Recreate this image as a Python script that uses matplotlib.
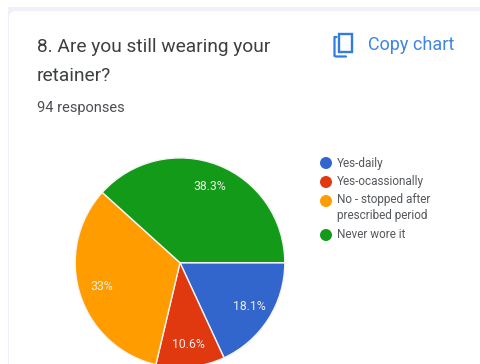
import matplotlib
matplotlib.use('Agg')
import matplotlib.pyplot as plt
from matplotlib.patches import Circle, FancyBboxPatch, Rectangle

# survey answers
categories = ['Yes-daily', 'Yes-ocassionally', 'No - stopped after\nprescribed period', 'Never wore it']
values = [18.1, 10.6, 33, 38.3]
colors = ['#3366cc', '#e0390f', '#ff9d00', '#149a19']
legend_y = [163, 182, 201, 235]
title_lines = ['8. Are you still wearing your', 'retainer?']
subtitle = '94 responses'
button_text = 'Copy chart'

W, H = 481, 364
plt.rcParams['font.family'] = ['Roboto', 'DejaVu Sans']


def Y(y):
    # pixel rows run downwards, the axes run upwards
    return H - y


fig = plt.figure(figsize=(W / 100, H / 100), dpi=100, facecolor='white')
ax = fig.add_axes([0, 0, 1, 1])
ax.set_xlim(0, W)
ax.set_ylim(0, H)
ax.axis('off')

# page strip behind the card, then the white card with its faint edge
ax.add_patch(Rectangle((8, -5), W, H + 5 - 7, facecolor='#f1eff9', edgecolor='none', zorder=0))
card = FancyBboxPatch((9, -40), W + 40, H + 40 - 11, boxstyle='round,pad=0,rounding_size=7',
                      facecolor='white', edgecolor='none', zorder=0.5)
ax.add_patch(card)

# heading
ax.text(37, Y(47), title_lines[0], fontsize=13.8, color='#3c4043', va='center', ha='left')
ax.text(37, Y(76), title_lines[1], fontsize=13.8, color='#3c4043', va='center', ha='left')
ax.text(37, Y(108), subtitle, fontsize=10.5, color='#4a4d51', va='center', ha='left')

# copy button, back sheet then front sheet
blue = '#2f7de1'
ax.plot([336.5, 334.5, 334.5, 336.5, 346], [Y(37), Y(37), Y(56), Y(56.5), Y(56.5)], color=blue, lw=1.6,
        solid_capstyle='round', zorder=2)
ax.add_patch(Rectangle((339.5, Y(52)), 13, 18, facecolor='none', edgecolor=blue, lw=1.7, zorder=2))
ax.text(368, Y(45.5), button_text, fontsize=13, color='#3f86e0', va='center', ha='left')

# pie, clockwise from 3 o'clock
wedges, texts, pcts = ax.pie(values, colors=colors, startangle=0, counterclock=False,
                             center=(180, Y(262.7)), radius=104.8, frame=True,
                             autopct=lambda p: '%g%%' % round(p, 1), pctdistance=0.78,
                             wedgeprops={'edgecolor': '#f4f4f4', 'linewidth': 1.0})
for t in pcts:
    t.set_color('#eeeeee')
    t.set_fontsize(8.8)
ax.set_xlim(0, W)
ax.set_ylim(0, H)
ax.set_aspect('auto')
ax.axis('off')

# legend
for name, col, y in zip(categories, colors, legend_y):
    ax.add_patch(Circle((326, Y(y)), 6, facecolor=col, edgecolor='none', zorder=3))
    if '\n' in name:
        first, second = name.split('\n')
        ax.text(337, Y(y - 1), first, fontsize=8.5, color='#55585c', va='center', ha='left')
        ax.text(337, Y(y + 15), second, fontsize=8.5, color='#55585c', va='center', ha='left')
    else:
        ax.text(337, Y(y), name, fontsize=8.5, color='#55585c', va='center', ha='left')

fig.savefig('out.png', dpi=100, facecolor=fig.get_facecolor())
